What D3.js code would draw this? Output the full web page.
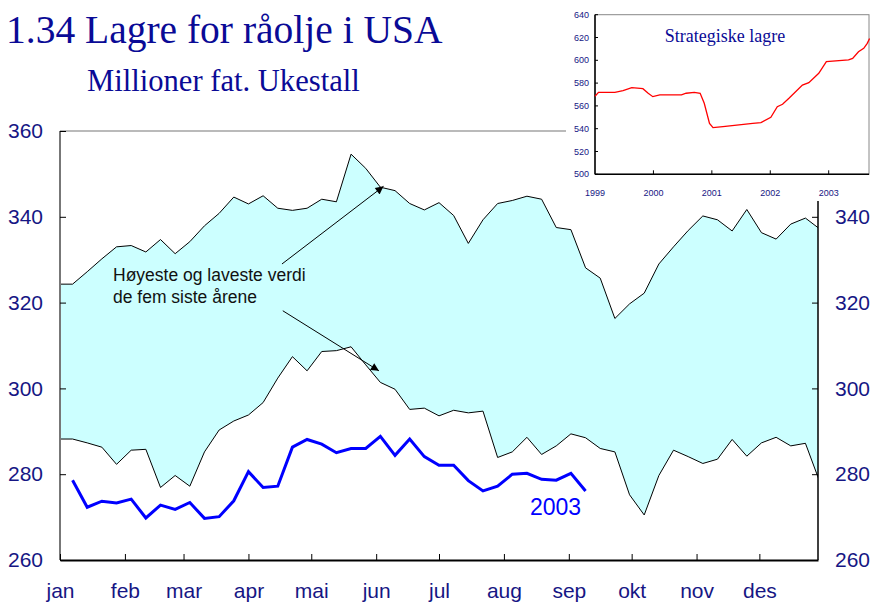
<!DOCTYPE html>
<html>
<head>
<meta charset="utf-8">
<script src="https://d3js.org/d3.v7.min.js"></script>
<style>
body { margin: 0; background: #fff; }
svg text { font-family: "Liberation Sans", Arial, sans-serif; }
</style>
</head>
<body>
<div class="main"></div>
<script>
// uke-data (dag i året for hver uke), høyeste/laveste av fem siste år, og 2003
var months = ['jan', 'feb', 'mar', 'apr', 'mai', 'jun', 'jul', 'aug', 'sep', 'okt', 'nov', 'des'];
var monthDays = [0, 31, 59, 90, 120, 151, 181, 212, 243, 273, 304, 334];
var weekDays = [-1, 6, 13, 20, 27, 34, 41, 48, 55, 62, 69, 76, 83, 90, 97, 104, 111, 118, 125, 132,
    139, 146, 153, 160, 167, 174, 181, 188, 195, 202, 209, 216, 223, 230, 237, 244, 251,
    258, 265, 272, 279, 286, 293, 300, 307, 314, 321, 328, 335, 342, 349, 356, 363];
var highs = [324.3, 324.3, 327.2, 330.2, 333.0, 333.3, 331.8, 334.7, 331.4, 334.2, 337.9, 340.8, 344.6, 343.0,
    344.9, 342.0, 341.5, 342.0, 344.1, 343.5, 354.6, 351.3, 346.9, 346.1, 343.1, 341.6, 343.3,
    340.3, 333.8, 339.3, 343.1, 343.8, 344.8, 344.1, 337.5, 337.0, 328.1, 325.7, 316.3, 319.7,
    322.2, 329.0, 333.0, 336.8, 340.2, 339.3, 336.7, 341.7, 336.3, 334.8, 338.3, 339.7, 337.1];
var lows = [288.2, 288.2, 287.3, 286.3, 282.3, 285.6, 285.8, 276.9, 279.7, 277.2, 285.2, 290.3, 292.4, 293.8,
    296.7, 302.4, 307.4, 304.1, 308.6, 308.8, 309.7, 305.5, 301.4, 299.8, 295.1, 295.4, 293.6,
    294.9, 294.3, 294.7, 283.9, 285.2, 288.6, 284.6, 286.6, 289.4, 288.5, 286.0, 285.2, 275.2,
    270.5, 279.7, 285.6, 284.1, 282.5, 283.5, 288.1, 284.2, 287.3, 288.6, 286.6, 287.2, 278.0];
var stock2003 = [278.6, 272.3, 273.7, 273.3, 274.2, 269.8, 272.8, 271.8, 273.4, 269.7, 270.1, 273.8,
    280.6, 276.9, 277.2, 286.3, 288.1, 287.0, 285.0, 286.0, 286.0, 288.8, 284.4, 288.2, 284.1,
    282.1, 282.1, 278.5, 276.1, 277.2, 280.0, 280.2, 278.8, 278.6, 280.2, 276.1];
var yTicks = [260, 280, 300, 320, 340, 360];
var yTicksRight = [260, 280, 300, 320, 340];

// strategiske lagre (innfelt figur)
var sprYears = [1999.00, 1999.06, 1999.34, 1999.48, 1999.63, 1999.82, 1999.91, 1999.99, 2000.11, 2000.48,
    2000.56, 2000.70, 2000.80, 2000.87, 2000.96, 2001.02, 2001.19, 2001.70, 2001.84, 2002.01,
    2002.12, 2002.21, 2002.32, 2002.55, 2002.66, 2002.83, 2002.96, 2003.34, 2003.41, 2003.51,
    2003.60, 2003.66, 2003.70];
var sprValues = [568.5, 571.9, 571.9, 573.3, 576.0, 575.1, 571.1, 568.1, 569.6, 569.6, 571.1, 571.9,
    571.1, 562.3, 544.7, 540.9, 541.8, 544.7, 545.3, 550.0, 559.3, 561.4, 566.7, 578.3, 580.4,
    588.6, 598.8, 600.3, 601.7, 607.5, 610.5, 614.9, 619.2];
var insetTicks = [500, 520, 540, 560, 580, 600, 620, 640];
var insetYears = [1999, 2000, 2001, 2002, 2003];

var navy = '#161684';

var svg = d3.select('.main')
    .append('svg')
    .attr('width', 875)
    .attr('height', 605);

svg.append('rect')
    .attr('width', 875)
    .attr('height', 605)
    .style('fill', '#fff');

var x = d3.scaleLinear().domain([0, 362]).range([60, 818]);
var y = d3.scaleLinear().domain([260, 360]).range([560, 131]);

svg.append('clipPath')
    .attr('id', 'plotclip')
    .append('rect')
    .attr('x', 60)
    .attr('y', 131)
    .attr('width', 758)
    .attr('height', 429);

var band = weekDays.map(function (d, i) {
    return { day: d, high: highs[i], low: lows[i] };
});

var plot = svg.append('g').attr('clip-path', 'url(#plotclip)');

plot.append('path')
    .datum(band)
    .attr('d', d3.area()
        .x(function (d) { return x(d.day); })
        .y0(function (d) { return y(d.low); })
        .y1(function (d) { return y(d.high); }))
    .style('fill', '#ccffff');

['high', 'low'].forEach(function (key) {
    plot.append('path')
        .datum(band)
        .attr('d', d3.line()
            .x(function (d) { return x(d.day); })
            .y(function (d) { return y(d[key]); }))
        .style('fill', 'none')
        .style('stroke', '#000')
        .style('stroke-width', 1);
});

plot.append('path')
    .datum(stock2003)
    .attr('d', d3.line()
        .x(function (d, i) { return x(weekDays[i + 1]); })
        .y(function (d) { return y(d); }))
    .style('fill', 'none')
    .style('stroke', '#0000ff')
    .style('stroke-width', 3)
    .style('stroke-linejoin', 'miter');

// akser
svg.append('line')
    .attr('x1', 60).attr('y1', 131).attr('x2', 566).attr('y2', 131)
    .style('stroke', '#777').style('stroke-width', 1.2);
svg.append('line')
    .attr('x1', 60).attr('y1', 131).attr('x2', 60).attr('y2', 560)
    .style('stroke', '#777').style('stroke-width', 2);
svg.append('line')
    .attr('x1', 818).attr('y1', 200).attr('x2', 818).attr('y2', 560)
    .style('stroke', '#000').style('stroke-width', 1.5);

var leftAxis = svg.append('g')
    .attr('transform', 'translate(60,0)')
    .call(d3.axisLeft(y).tickValues(yTicks).tickSizeInner(-6).tickSizeOuter(0).tickPadding(17));
var rightAxis = svg.append('g')
    .attr('transform', 'translate(818,0)')
    .call(d3.axisRight(y).tickValues(yTicksRight).tickSizeInner(-6).tickSizeOuter(0).tickPadding(17));
var bottomAxis = svg.append('g')
    .attr('transform', 'translate(0,560)')
    .call(d3.axisBottom(x).tickValues(monthDays)
        .tickFormat(function (d, i) { return months[i]; })
        .tickSizeInner(-6).tickSizeOuter(0).tickPadding(23));

[leftAxis, rightAxis].forEach(function (g) {
    g.select('.domain').remove();
    g.selectAll('text')
        .style('font-size', '21px')
        .style('font-family', '"Liberation Sans", Arial, sans-serif')
        .style('fill', navy);
    g.selectAll('line').style('stroke', '#000');
});
bottomAxis.select('.domain')
    .style('stroke', '#000')
    .style('stroke-width', 2);
bottomAxis.selectAll('line').style('stroke', '#000');
bottomAxis.selectAll('text')
    .style('font-size', '21px')
    .style('font-family', '"Liberation Sans", Arial, sans-serif')
    .style('fill', navy);

// etiketter og piler
svg.append('text')
    .attr('x', 530)
    .attr('y', 515)
    .text('2003')
    .style('font-size', '23px')
    .style('fill', '#0000ff');

svg.append('defs')
    .append('marker')
    .attr('id', 'arrow')
    .attr('viewBox', '0 0 10 10')
    .attr('refX', 10)
    .attr('refY', 5)
    .attr('markerWidth', 10)
    .attr('markerHeight', 8)
    .attr('markerUnits', 'userSpaceOnUse')
    .attr('orient', 'auto')
    .append('path')
    .attr('d', 'M0,0L10,5L0,10Z')
    .style('fill', '#000');

var arrows = [
    { from: [106, 329.0], to: [154.5, 347.1] },
    { from: [106.4, 318.1], to: [152.3, 304.1] }
];
svg.selectAll('.arrow')
    .data(arrows)
    .enter()
    .append('line')
    .attr('class', 'arrow')
    .attr('x1', function (d) { return x(d.from[0]); })
    .attr('y1', function (d) { return y(d.from[1]); })
    .attr('x2', function (d) { return x(d.to[0]); })
    .attr('y2', function (d) { return y(d.to[1]); })
    .style('stroke', '#000')
    .style('stroke-width', 1)
    .attr('marker-end', 'url(#arrow)');

var note = svg.append('text')
    .style('font-size', '17.5px')
    .style('fill', '#111');
note.append('tspan').attr('x', 113).attr('y', 281).text('Høyeste og laveste verdi');
note.append('tspan').attr('x', 113).attr('y', 303).text('de fem siste årene');

// titler
svg.append('text')
    .attr('x', 6)
    .attr('y', 43)
    .text('1.34 Lagre for råolje i USA')
    .style('font-family', '"Liberation Serif", "Times New Roman", serif')
    .style('font-size', '39.5px')
    .style('fill', '#0a0a96');
svg.append('text')
    .attr('x', 87)
    .attr('y', 91)
    .text('Millioner fat. Ukestall')
    .style('font-family', '"Liberation Serif", "Times New Roman", serif')
    .style('font-size', '30.6px')
    .style('fill', '#0a0a96');

// innfelt figur
var inset = svg.append('g');
inset.append('rect')
    .attr('x', 566).attr('y', 0).attr('width', 309).attr('height', 201)
    .style('fill', '#fff');

var xi = d3.scaleLinear().domain([1999, 2003.69]).range([595, 869]);
var yi = d3.scaleLinear().domain([500, 640]).range([174.3, 14.7]);

inset.append('rect')
    .attr('x', 595).attr('y', yi(640))
    .attr('width', 869 - 595).attr('height', yi(500) - yi(640))
    .style('fill', 'none')
    .style('stroke', '#888')
    .style('stroke-width', 1);
inset.append('line')
    .attr('x1', 595).attr('y1', yi(640)).attr('x2', 595).attr('y2', yi(500))
    .style('stroke', '#000').style('stroke-width', 1.5);
inset.append('line')
    .attr('x1', 595).attr('y1', yi(500)).attr('x2', 869).attr('y2', yi(500))
    .style('stroke', '#000').style('stroke-width', 1.5);

inset.selectAll('.ytick')
    .data(insetTicks)
    .enter()
    .append('line')
    .attr('class', 'ytick')
    .attr('x1', 595).attr('x2', 598)
    .attr('y1', function (d) { return yi(d); })
    .attr('y2', function (d) { return yi(d); })
    .style('stroke', '#000');
inset.selectAll('.ylab')
    .data(insetTicks)
    .enter()
    .append('text')
    .attr('class', 'ylab')
    .attr('x', 589)
    .attr('y', function (d) { return yi(d); })
    .attr('dy', '0.35em')
    .attr('text-anchor', 'end')
    .text(function (d) { return d; })
    .style('font-size', '9px')
    .style('fill', navy);
inset.selectAll('.xtick')
    .data(insetYears.slice(1))
    .enter()
    .append('line')
    .attr('class', 'xtick')
    .attr('x1', function (d) { return xi(d); })
    .attr('x2', function (d) { return xi(d); })
    .attr('y1', yi(500)).attr('y2', yi(500) - 4)
    .style('stroke', '#000');
inset.selectAll('.xlab')
    .data(insetYears)
    .enter()
    .append('text')
    .attr('class', 'xlab')
    .attr('x', function (d) { return xi(d); })
    .attr('y', 196)
    .attr('text-anchor', 'middle')
    .text(function (d) { return d; })
    .style('font-size', '9px')
    .style('fill', navy);

inset.append('path')
    .datum(sprValues)
    .attr('d', d3.line()
        .x(function (d, i) { return xi(sprYears[i]); })
        .y(function (d) { return yi(d); }))
    .style('fill', 'none')
    .style('stroke', '#ff0000')
    .style('stroke-width', 1.3);

inset.append('text')
    .attr('x', 725)
    .attr('y', 42)
    .attr('text-anchor', 'middle')
    .text('Strategiske lagre')
    .style('font-family', '"Liberation Serif", "Times New Roman", serif')
    .style('font-size', '18px')
    .style('fill', '#0a0a96');
</script>
</body>
</html>
